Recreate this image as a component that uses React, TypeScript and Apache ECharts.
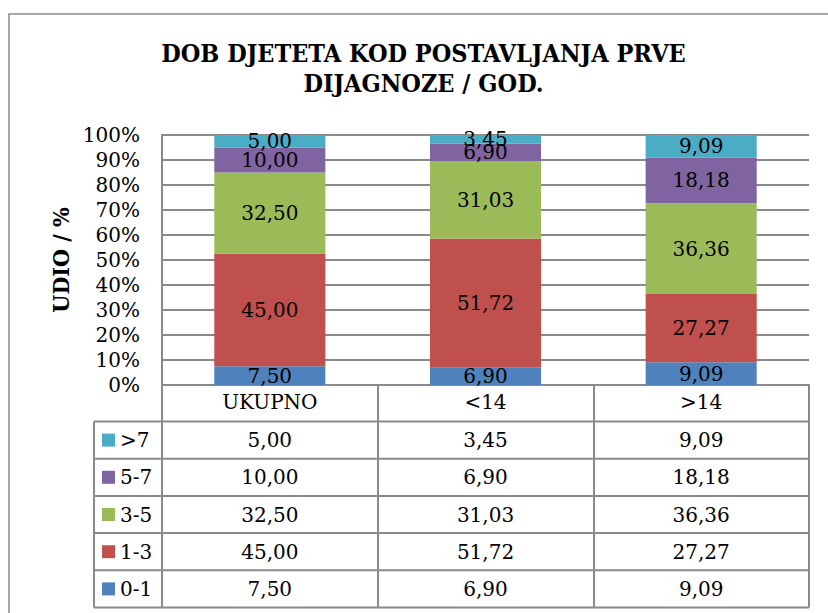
import React, { useEffect, useRef } from "react";
import * as echarts from "echarts";

const titleLines = ["DOB DJETETA KOD POSTAVLJANJA PRVE", "DIJAGNOZE / GOD."];
const yAxisName = "UDIO / %";
const categories = ["UKUPNO", "<14", ">14"];
const seriesNames = ["0-1", "1-3", "3-5", "5-7", ">7"];
const values01 = [7.5, 6.9, 9.09];
const values13 = [45.0, 51.72, 27.27];
const values35 = [32.5, 31.03, 36.36];
const values57 = [10.0, 6.9, 18.18];
const valuesGt7 = [5.0, 3.45, 9.09];
const colors = ["#4F81BD", "#C0504D", "#9BBB59", "#8064A2", "#4BACC6"];

const seriesValues = [values01, values13, values35, values57, valuesGt7];

const NUM_FONT = "'DejaVu Serif', serif";
const BOLD_FONT = "'DejaVu Serif Condensed', 'DejaVu Serif', serif";
const GRAY = "#8a8a8a";

const GRID_LEFT = 162;
const GRID_RIGHT_X = 809;
const GRID_TOP = 135;
const GRID_BOTTOM_Y = 385;
const TABLE_HEAD_BOTTOM = 421.5;
const ROW_H = 37.2;
const TABLE_BOTTOM = TABLE_HEAD_BOTTOM + ROW_H * 5;
const LEGEND_COL_LEFT = 94;

const fmt = (v: number) => v.toFixed(2).replace(".", ",");

export default function App() {
  const ref = useRef<HTMLDivElement>(null);
  useEffect(() => {
    if (!ref.current) return;
    const chart = echarts.init(ref.current, null, { renderer: "svg" });
    const W = 828;
    const H = 613;
    const colW = (GRID_RIGHT_X - GRID_LEFT) / categories.length;

    const graphics: any[] = [];
    graphics.push({
      type: "rect",
      shape: { x: 9, y: 14, width: 900, height: 700 },
      style: { fill: "none", stroke: GRAY, lineWidth: 1.5 },
      silent: true,
    });
    titleLines.forEach((t, i) => {
      graphics.push({
        type: "text",
        x: 423.5,
        y: 53 + i * 30,
        style: {
          text: t,
          align: "center",
          verticalAlign: "middle",
          fontFamily: BOLD_FONT,
          fontWeight: "bold",
          fontSize: 25,
          fill: "#000",
        },
      });
    });
    // table horizontal lines
    for (let r = 0; r <= 5; r++) {
      const y = TABLE_HEAD_BOTTOM + r * ROW_H;
      graphics.push({
        type: "line",
        shape: { x1: LEGEND_COL_LEFT, y1: y, x2: GRID_RIGHT_X, y2: y },
        style: { stroke: GRAY, lineWidth: 2 },
        silent: true,
      });
    }
    graphics.push({
      type: "line",
      shape: { x1: LEGEND_COL_LEFT, y1: TABLE_HEAD_BOTTOM, x2: LEGEND_COL_LEFT, y2: TABLE_BOTTOM },
      style: { stroke: GRAY, lineWidth: 2 },
      silent: true,
    });
    // table values, top row is last series
    const rowOrder = [4, 3, 2, 1, 0];
    rowOrder.forEach((si, r) => {
      const yc = TABLE_HEAD_BOTTOM + ROW_H * (r + 0.5);
      seriesValues[si].forEach((v, c) => {
        graphics.push({
          type: "text",
          x: GRID_LEFT + colW * (c + 0.5),
          y: yc,
          style: {
            text: fmt(v),
            align: "center",
            verticalAlign: "middle",
            fontFamily: NUM_FONT,
            fontSize: 20,
            fill: "#000",
          },
        });
      });
    });

    chart.setOption({
      animation: false,
      backgroundColor: "#fff",
      color: colors,
      grid: {
        left: GRID_LEFT,
        right: W - GRID_RIGHT_X,
        top: GRID_TOP,
        bottom: H - GRID_BOTTOM_Y,
        containLabel: false,
      },
      legend: {
        orient: "vertical",
        left: 102,
        top: TABLE_HEAD_BOTTOM + ROW_H / 2 - 10,
        padding: 0,
        itemGap: ROW_H - 20,
        itemWidth: 13,
        itemHeight: 13,
        icon: "rect",
        selectedMode: false,
        data: [...seriesNames].reverse(),
        textStyle: { fontFamily: NUM_FONT, fontSize: 20, color: "#000", lineHeight: 20 },
      },
      xAxis: {
        type: "category",
        data: categories,
        axisLine: { show: true, lineStyle: { color: GRAY, width: 2 } },
        axisTick: {
          show: true,
          length: TABLE_BOTTOM - GRID_BOTTOM_Y,
          lineStyle: { color: GRAY, width: 2 },
        },
        axisLabel: {
          margin: 7,
          fontFamily: NUM_FONT,
          fontSize: 20,
          color: "#000",
        },
      },
      yAxis: {
        type: "value",
        min: 0,
        max: 100,
        interval: 10,
        name: yAxisName,
        nameLocation: "middle",
        nameRotate: 90,
        nameGap: 90,
        nameTextStyle: {
          fontFamily: BOLD_FONT,
          fontWeight: "bold",
          fontSize: 23,
          color: "#000",
        },
        axisLine: { show: true, lineStyle: { color: GRAY, width: 2 } },
        axisTick: { show: false },
        splitLine: { show: true, lineStyle: { color: GRAY, width: 2 } },
        axisLabel: {
          formatter: "{value}%",
          margin: 22,
          fontFamily: NUM_FONT,
          fontSize: 20,
          color: "#000",
        },
      },
      series: seriesNames.map((name, i) => ({
        name,
        type: "bar",
        stack: "total",
        barWidth: "51.5%",
        data: seriesValues[i],
        itemStyle: { color: colors[i] },
        label: {
          show: true,
          position: "inside",
          formatter: (p: any) => fmt(p.value),
          fontFamily: NUM_FONT,
          fontSize: 20,
          color: "#000",
        },
      })),
      graphic: graphics,
    });
    return () => chart.dispose();
  }, []);
  return (
    <div
      ref={ref}
      style={{ position: "absolute", left: 0, top: 0, width: 828, height: 613 }}
    />
  );
}
